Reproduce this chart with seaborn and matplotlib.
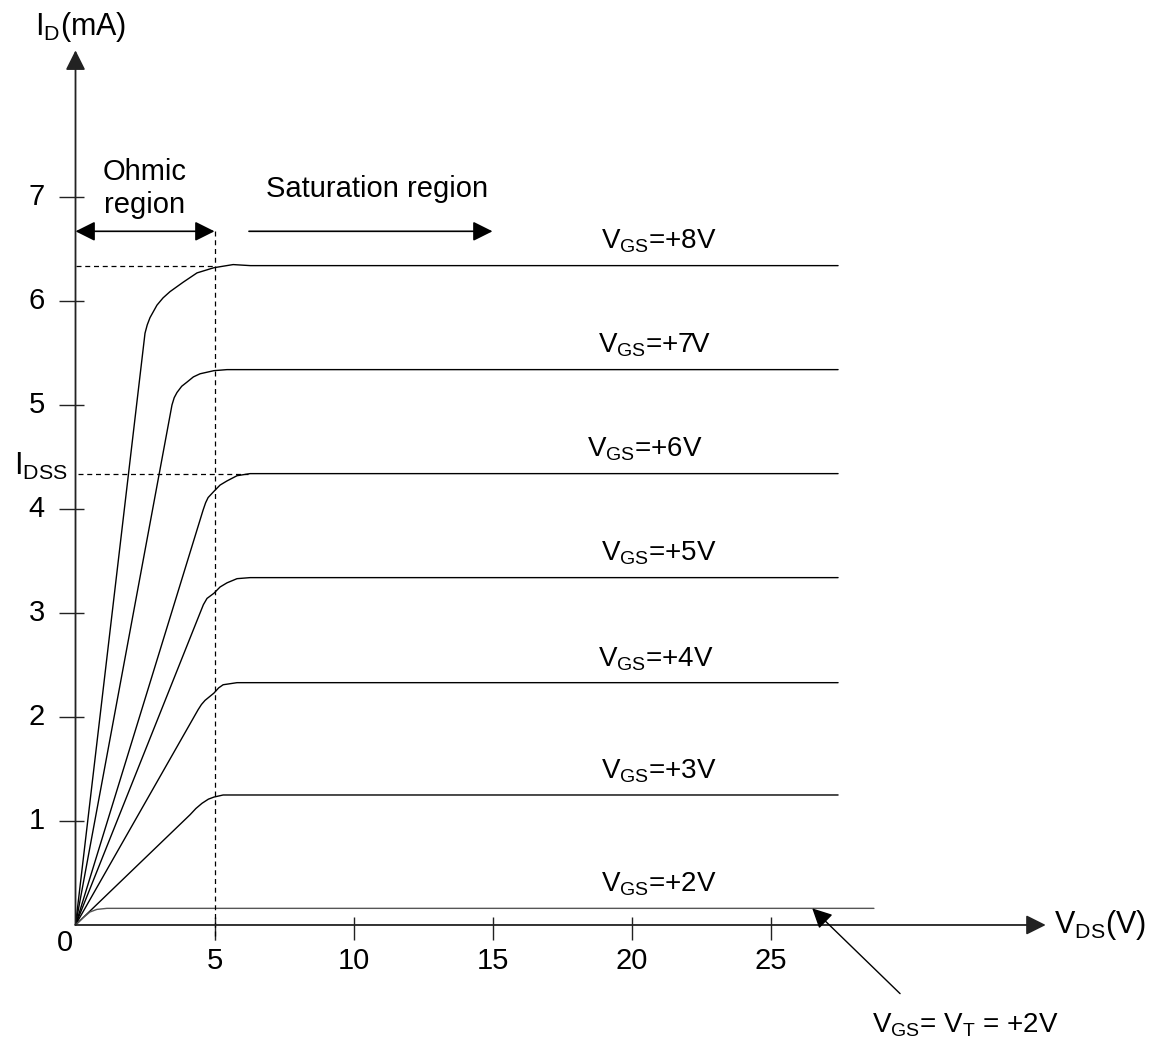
import numpy as np
import pandas as pd
import matplotlib
matplotlib.use('Agg')
import matplotlib.pyplot as plt
import seaborn as sns

sns.set_style("white")
plt.rcParams['font.family'] = ['Liberation Sans', 'DejaVu Sans']
plt.rcParams['text.color'] = 'black'
plt.rcParams['mathtext.fontset'] = 'custom'
plt.rcParams['mathtext.rm'] = 'Liberation Sans'
plt.rcParams['mathtext.it'] = 'Liberation Sans:italic'
plt.rcParams['mathtext.bf'] = 'Liberation Sans:bold'

# Curvas I_D(V_DS) (V, mA)
vgs_labels = ['+8V', '+7V', '+6V', '+5V', '+4V', '+3V', '+2V']
vds_8 = [0, 2.50, 2.58, 2.68, 2.93, 3.15, 3.40, 3.87, 4.37, 4.98, 5.67, 6.29, 27.43]
id_8 = [0, 5.69, 5.77, 5.84, 5.96, 6.03, 6.09, 6.18, 6.27, 6.32, 6.35, 6.34, 6.34]
vds_7 = [0, 3.47, 3.55, 3.65, 3.82, 4.01, 4.24, 4.48, 4.98, 5.45, 27.43]
id_7 = [0, 5.00, 5.07, 5.12, 5.18, 5.22, 5.27, 5.30, 5.33, 5.34, 5.34]
vds_6 = [0, 4.59, 4.68, 4.77, 4.98, 5.20, 5.45, 5.81, 6.28, 27.43]
id_6 = [0, 3.99, 4.06, 4.11, 4.17, 4.23, 4.27, 4.32, 4.34, 4.34]
vds_5 = [0, 4.48, 4.60, 4.73, 4.98, 5.20, 5.45, 5.81, 6.28, 27.43]
id_5 = [0, 3.00, 3.08, 3.14, 3.19, 3.25, 3.29, 3.33, 3.34, 3.34]
vds_4 = [0, 4.41, 4.53, 4.66, 4.98, 5.15, 5.31, 5.81, 27.43]
id_4 = [0, 2.07, 2.12, 2.16, 2.23, 2.28, 2.31, 2.33, 2.33]
vds_3 = [0, 4.12, 4.33, 4.55, 4.78, 4.98, 5.31, 27.43]
id_3 = [0, 1.06, 1.12, 1.17, 1.21, 1.23, 1.25, 1.25]
vds_2 = [0, 0.27, 0.52, 0.77, 1.13, 28.72]
id_2 = [0, 0.07, 0.125, 0.15, 0.16, 0.16]

x_ticks = [5, 10, 15, 20, 25]
y_ticks = [1, 2, 3, 4, 5, 6, 7]
i_sat8 = 6.34
i_dss = 4.34
v_knee = 5

curvas = [(vds_8, id_8), (vds_7, id_7), (vds_6, id_6), (vds_5, id_5),
          (vds_4, id_4), (vds_3, id_3), (vds_2, id_2)]
filas = []
for lab, (vx, iy) in zip(vgs_labels, curvas):
    for k, (a, b) in enumerate(zip(vx, iy)):
        filas.append({'vgs': lab, 'orden': k, 'vds': a, 'id': b})
df = pd.DataFrame(filas)

fig = plt.figure(figsize=(11.55, 10.37), dpi=100)
ax = fig.add_axes([0, 0, 1, 1])
ax.set_xlim(-2.716, 38.83)
ax.set_ylim(-1.077, 8.894)
ax.axis('off')

paleta = {lab: 'black' for lab in vgs_labels}
paleta['+2V'] = '#555555'
sns.lineplot(data=df, x='vds', y='id', hue='vgs', palette=paleta,
             units='vgs', estimator=None, sort=False, lw=1.0,
             legend=False, ax=ax)

fs = 21
fs_vgs = 20
eje = '#222222'
cabeza = '-|>,head_length=0.6,head_width=0.3'

# Ejes con flechas
ax.annotate('', xy=(0, 8.41), xytext=(0, 0),
            arrowprops=dict(arrowstyle=cabeza, mutation_scale=20,
                            color=eje, lw=1.3, shrinkA=0, shrinkB=0))
ax.annotate('', xy=(34.9, 0), xytext=(0, 0),
            arrowprops=dict(arrowstyle=cabeza, mutation_scale=20,
                            color=eje, lw=1.3, shrinkA=0, shrinkB=0))

# Marcas de los ejes
ax.vlines(x_ticks, -0.144, 0.077, color=eje, lw=1.0)
ax.hlines(y_ticks, -0.58, 0.29, color=eje, lw=1.0)
for t in x_ticks:
    ax.text(t, -0.346, str(t), ha='center', va='center', fontsize=fs)
for t in y_ticks:
    ax.text(-1.10, t, str(t), ha='right', va='center', fontsize=fs)
ax.text(-0.38, -0.17, '0', ha='center', va='center', fontsize=fs)

# Líneas discontinuas
dash = (0, (4, 3))
ax.plot([0, v_knee], [i_sat8, i_sat8], color='black', lw=0.9, ls=dash)
ax.plot([v_knee, v_knee], [6.67, -0.144], color='black', lw=0.9, ls=dash)
ax.plot([0.1, 6.2], [i_dss, i_dss], color='black', lw=0.9, ls=dash)

# Flechas de regiones
ax.annotate('', xy=(0, 6.67), xytext=(v_knee, 6.67),
            arrowprops=dict(arrowstyle='<|-|>,head_length=0.6,head_width=0.3',
                            mutation_scale=20, color='black', lw=1.2,
                            shrinkA=0, shrinkB=0))
ax.annotate('', xy=(15.0, 6.67), xytext=(6.24, 6.67),
            arrowprops=dict(arrowstyle=cabeza, mutation_scale=20,
                            color='black', lw=1.2, shrinkA=0, shrinkB=0))
ax.text(2.5, 6.85, 'Ohmic\nregion', ha='center', va='baseline',
        fontsize=fs, linespacing=1.2)
ax.text(10.85, 7.0, 'Saturation region', ha='center', va='baseline', fontsize=fs)

# Etiquetas de cada curva
label_x = [18.9, 18.8, 18.4, 18.9, 18.8, 18.9, 18.9]
for lab, xl, (vx, iy) in zip(vgs_labels, label_x, curvas):
    ax.text(xl, iy[-1] + 0.16, r'$\mathrm{V_{GS}}$=' + lab,
            ha='left', va='baseline', fontsize=fs_vgs)

# Títulos de ejes
ax.text(-1.46, 8.56, r'$\mathrm{I_D}$(mA)', ha='left', va='baseline', fontsize=fs + 1)
ax.text(35.2, -0.077, r'$\mathrm{V_{DS}}$(V)', ha='left', va='baseline', fontsize=fs + 1)
ax.text(-2.21, 4.33, r'$\mathrm{I_{DSS}}$', ha='left', va='baseline', fontsize=fs + 1)

# Umbral V_T
ax.annotate('', xy=(26.5, 0.16), xytext=(29.66, -0.66),
            arrowprops=dict(arrowstyle=cabeza, mutation_scale=20,
                            color='black', lw=1.0, shrinkA=0, shrinkB=0))
ax.text(28.65, -1.03, r'$\mathrm{V_{GS}}$= $\mathrm{V_T}$ = +2V',
        ha='left', va='baseline', fontsize=fs_vgs)

fig.savefig('out.png', dpi=100)
